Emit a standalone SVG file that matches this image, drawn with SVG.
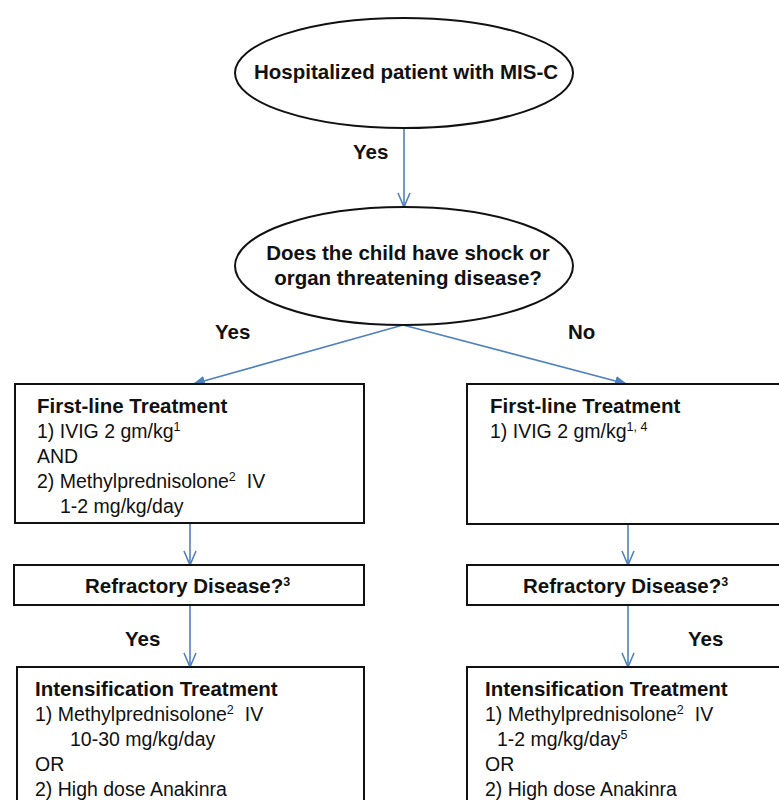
<svg xmlns="http://www.w3.org/2000/svg" width="779" height="800" viewBox="0 0 779 800">
<style>
text{font-family:"Liberation Sans",Arial,sans-serif;fill:#111;}
.b{font-weight:bold;font-size:20.5px;}
.r{font-size:19.5px;}
.sup{font-size:12.5px;}
.shape{fill:#fff;stroke:#111;stroke-width:2;}
.conn{stroke:#4f81bd;stroke-width:1.6;fill:none;}
</style>
<defs>
<marker id="open" viewBox="0 0 16 14" refX="15" refY="7" markerWidth="16" markerHeight="14" markerUnits="userSpaceOnUse" orient="auto">
<path d="M1,1 L15,7 L1,13" fill="none" stroke="#4f81bd" stroke-width="1.6"/>
</marker>
<marker id="fill" viewBox="0 0 12 10" refX="12" refY="5" markerWidth="12" markerHeight="10" markerUnits="userSpaceOnUse" orient="auto">
<path d="M0,0 L12,5 L0,10 z" fill="#4f81bd"/>
</marker>
</defs>
<rect width="779" height="800" fill="#fff"/>
<g id="connectors">
<line class="conn" x1="404" y1="128" x2="404" y2="207" marker-end="url(#open)"/>
<line class="conn" x1="403" y1="325" x2="193" y2="384" marker-end="url(#fill)"/>
<line class="conn" x1="403" y1="325" x2="627" y2="384" marker-end="url(#fill)"/>
<line class="conn" x1="190" y1="523" x2="190" y2="565" marker-end="url(#open)"/>
<line class="conn" x1="628" y1="524" x2="628" y2="565" marker-end="url(#open)"/>
<line class="conn" x1="190" y1="605" x2="190" y2="667" marker-end="url(#open)"/>
<line class="conn" x1="628" y1="605" x2="628" y2="667" marker-end="url(#open)"/>
<text class="b" x="353" y="159">Yes</text>
<text class="b" x="215" y="339">Yes</text>
<text class="b" x="568" y="339">No</text>
<text class="b" x="125" y="646">Yes</text>
<text class="b" x="688" y="646">Yes</text>
</g>
<g id="start">
<ellipse class="shape" cx="404" cy="73" rx="169" ry="55"/>
<text class="b" x="406" y="79" text-anchor="middle">Hospitalized patient with MIS-C</text>
</g>
<g id="decision">
<ellipse class="shape" cx="404" cy="266" rx="169" ry="59"/>
<text class="b" x="408" y="260" text-anchor="middle">Does the child have shock or</text>
<text class="b" x="408" y="285" text-anchor="middle">organ threatening disease?</text>
</g>
<g id="first-line-yes">
<rect class="shape" x="15" y="384" width="349" height="139"/>
<text class="b" x="37" y="413">First-line Treatment</text>
<text class="r" x="37" y="438">1) IVIG 2 gm/kg<tspan class="sup" dy="-7">1</tspan></text>
<text class="r" x="37" y="463">AND</text>
<text class="r" x="37" y="488">2) Methylprednisolone<tspan class="sup" dy="-7">2</tspan><tspan dx="11" dy="7">IV</tspan></text>
<text class="r" x="60" y="513">1-2 mg/kg/day</text>
</g>
<g id="first-line-no">
<rect class="shape" x="467" y="384" width="330" height="140"/>
<text class="b" x="490" y="413">First-line Treatment</text>
<text class="r" x="490" y="438">1) IVIG 2 gm/kg<tspan class="sup" dy="-7">1, 4</tspan></text>
</g>
<g id="refractory-yes">
<rect class="shape" x="14" y="565" width="350" height="40"/>
<text class="b" x="85" y="593">Refractory Disease?<tspan class="sup" dy="-7">3</tspan></text>
</g>
<g id="refractory-no">
<rect class="shape" x="467" y="565" width="330" height="40"/>
<text class="b" x="523" y="593">Refractory Disease?<tspan class="sup" dy="-7">3</tspan></text>
</g>
<g id="intensification-yes">
<rect class="shape" x="17" y="667" width="347" height="150"/>
<text class="b" x="35" y="696">Intensification Treatment</text>
<text class="r" x="35" y="721">1) Methylprednisolone<tspan class="sup" dy="-7">2</tspan><tspan dx="11" dy="7">IV</tspan></text>
<text class="r" x="70" y="746">10-30 mg/kg/day</text>
<text class="r" x="35" y="771">OR</text>
<text class="r" x="35" y="796">2) High dose Anakinra</text>
</g>
<g id="intensification-no">
<rect class="shape" x="467" y="667" width="330" height="150"/>
<text class="b" x="485" y="696">Intensification Treatment</text>
<text class="r" x="485" y="721">1) Methylprednisolone<tspan class="sup" dy="-7">2</tspan><tspan dx="11" dy="7">IV</tspan></text>
<text class="r" x="497" y="746">1-2 mg/kg/day<tspan class="sup" dy="-7">5</tspan></text>
<text class="r" x="485" y="771">OR</text>
<text class="r" x="485" y="796">2) High dose Anakinra</text>
</g>
</svg>
